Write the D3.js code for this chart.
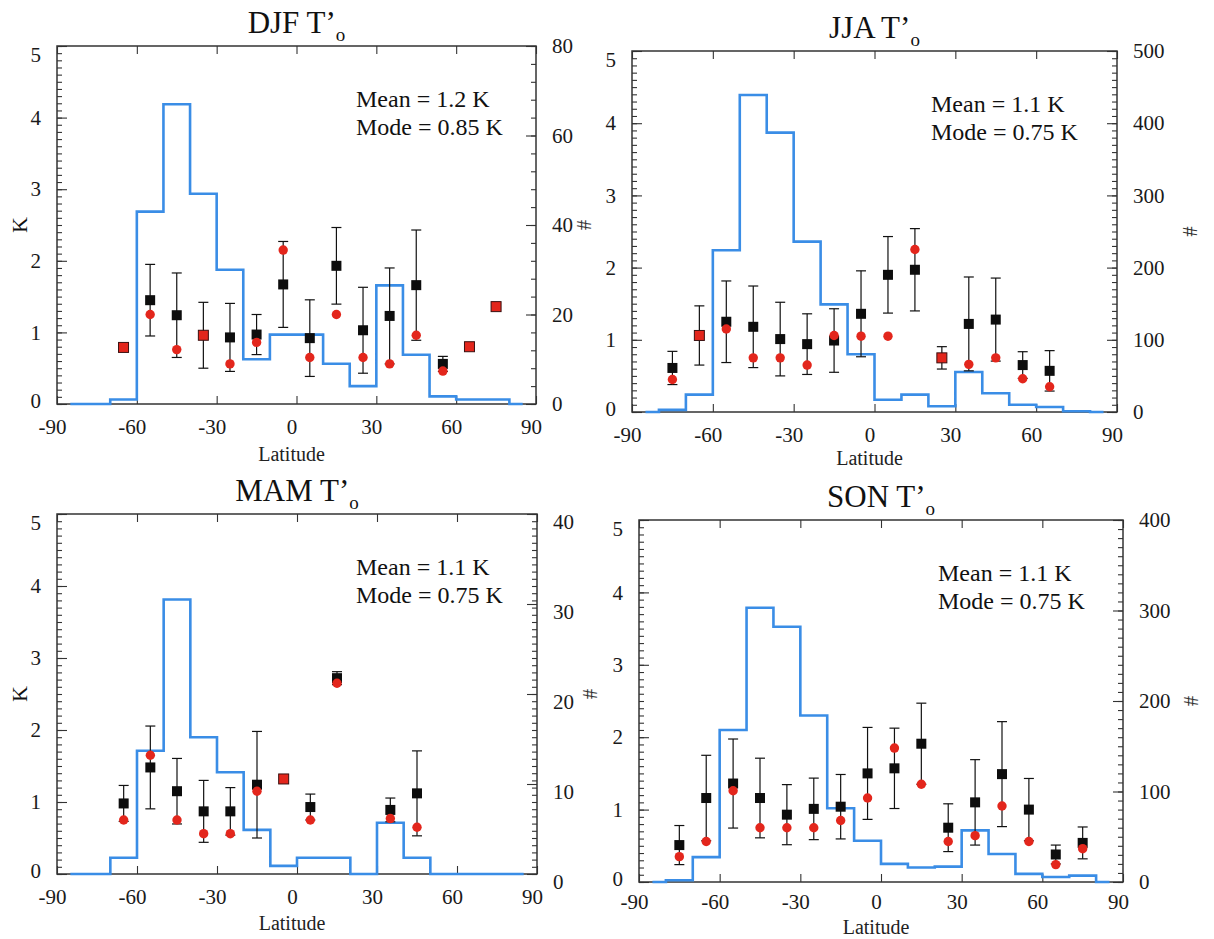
<!DOCTYPE html>
<html>
<head>
<meta charset="utf-8">
<script src="https://cdn.jsdelivr.net/npm/d3@7"></script>
<style>
  body { margin: 0; background: #fff; }
  svg { display: block; }
</style>
</head>
<body>
<script>
// shared latitude setup
const xTicks = [-90, -60, -30, 0, 30, 60, 90];
const binEdges = [-85, -80, -70, -60, -50, -40, -30, -20, -10, 0, 10, 20, 30, 40, 50, 60, 70, 80, 85];

// DJF
const djfLat = [-65, -55, -45, -35, -25, -15, -5, 5, 15, 25, 35, 45, 55, 65, 75];
const djfBlack = [0.79, 1.45, 1.24, 0.96, 0.93, 0.97, 1.67, 0.92, 1.93, 1.03, 1.23, 1.66, 0.56, 0.80, 1.36];
const djfRed = [0.79, 1.25, 0.76, 0.96, 0.56, 0.86, 2.15, 0.65, 1.25, 0.65, 0.56, 0.96, 0.46, 0.80, 1.36];
const djfSd = [0, 0.50, 0.59, 0.46, 0.475, 0.28, 0.60, 0.535, 0.535, 0.60, 0.67, 0.77, 0.105, 0, 0];
const djfCount = [0, 0, 1, 43, 67, 47, 30, 10, 15.5, 15.5, 9, 4, 26.5, 11, 1.7, 1, 1, 0];

// JJA
const jjaLat = [-75, -65, -55, -45, -35, -25, -15, -5, 5, 15, 25, 35, 45, 55, 65];
const jjaBlack = [0.61, 1.06, 1.25, 1.18, 1.01, 0.94, 0.99, 1.36, 1.90, 1.97, 0.75, 1.22, 1.28, 0.65, 0.57];
const jjaRed = [0.45, 1.06, 1.15, 0.75, 0.75, 0.65, 1.06, 1.05, 1.05, 2.25, 0.75, 0.66, 0.75, 0.46, 0.35];
const jjaSd = [0.23, 0.41, 0.565, 0.565, 0.51, 0.42, 0.44, 0.595, 0.53, 0.57, 0.155, 0.65, 0.575, 0.185, 0.28];
const jjaCount = [0, 3, 24, 224, 439, 387, 236, 149, 80, 17, 24, 8, 55.5, 26, 10, 7, 1, 0];

// MAM
const mamLat = [-65, -55, -45, -35, -25, -15, -5, 5, 15, 35, 45];
const mamBlack = [0.98, 1.48, 1.15, 0.87, 0.87, 1.24, 1.32, 0.93, 2.72, 0.89, 1.12];
const mamRed = [0.75, 1.65, 0.75, 0.56, 0.56, 1.15, 1.32, 0.75, 2.65, 0.77, 0.65];
const mamSd = [0.25, 0.575, 0.455, 0.43, 0.33, 0.74, 0, 0.18, 0.09, 0.165, 0.59];
const mamCount = [0, 0, 1.8, 13.7, 30.5, 15.2, 11.3, 4.9, 0.9, 1.8, 1.8, 0, 5.7, 1.8, 0, 0, 0, 0];

// SON
const sonLat = [-75, -65, -55, -45, -35, -25, -15, -5, 5, 15, 25, 35, 45, 55, 65, 75];
const sonBlack = [0.51, 1.16, 1.36, 1.16, 0.93, 1.01, 1.04, 1.50, 1.57, 1.91, 0.75, 1.10, 1.49, 1.00, 0.38, 0.54];
const sonRed = [0.35, 0.56, 1.26, 0.75, 0.75, 0.75, 0.85, 1.16, 1.85, 1.35, 0.56, 0.64, 1.05, 0.56, 0.24, 0.46];
const sonSd = [0.27, 0.59, 0.615, 0.55, 0.415, 0.425, 0.445, 0.635, 0.555, 0.56, 0.33, 0.59, 0.725, 0.43, 0.13, 0.22];
const sonCount = [0, 2, 27.5, 168, 303, 282, 184, 81.5, 45.5, 20, 16, 17, 57, 31, 9, 5.5, 7, 0];

const panels = [
  { season: 'DJF', lat: djfLat, black: djfBlack, red: djfRed, sd: djfSd, count: djfCount,
    mean: '1.2', mode: '0.85', nMax: 80, nStep: 20, nMinor: 4, box: [57, 46, 536, 404],
    kLabel: true, hashDx: 55, nShift: 0, xPad: 15, latDy: 57 },
  { season: 'JJA', lat: jjaLat, black: jjaBlack, red: jjaRed, sd: jjaSd, count: jjaCount,
    mean: '1.1', mode: '0.75', nMax: 500, nStep: 100, nMinor: 10, box: [632, 51, 1117, 412],
    kLabel: false, hashDx: 80, nShift: 0, xPad: 15, latDy: 53 },
  { season: 'MAM', lat: mamLat, black: mamBlack, red: mamRed, sd: mamSd, count: mamCount,
    mean: '1.1', mode: '0.75', nMax: 40, nStep: 10, nMinor: 0.8, box: [57, 514, 537, 874],
    kLabel: true, hashDx: 60, nShift: 8, xPad: 15, latDy: 56 },
  { season: 'SON', lat: sonLat, black: sonBlack, red: sonRed, sd: sonSd, count: sonCount,
    mean: '1.1', mode: '0.75', nMax: 400, nStep: 100, nMinor: 10, box: [639, 520, 1123, 882],
    kLabel: false, hashDx: 75, nShift: 0, xPad: 12, latDy: 52 }
];

const width = 1214, height = 939;
const serif = '"Liberation Serif", "DejaVu Serif", serif';
const ink = '#333';
const plain = d => String(d);   // keeps the ascii hyphen like the original

const svg = d3.select('body').append('svg')
  .attr('width', width)
  .attr('height', height)
  .style('font-family', serif);

function styleAxis(sel) {
  sel.attr('font-family', serif);
  sel.select('.domain').remove();
  sel.selectAll('line').attr('stroke', ink).attr('stroke-width', 1.1);
  sel.selectAll('text').attr('fill', '#1a1a1a').attr('font-size', 21).attr('font-family', serif);
}

panels.forEach(p => {
  const [left, top, right, bottom] = p.box;
  const x = d3.scaleLinear().domain([-90, 90]).range([left, right]);
  const yK = d3.scaleLinear().domain([0, 5]).range([bottom, top]);
  const yN = d3.scaleLinear().domain([0, p.nMax]).range([bottom, top]);
  const g = svg.append('g');

  // ----- left axis (K) -----
  g.append('g').attr('transform', `translate(${left},0)`)
    .call(d3.axisLeft(yK).tickValues(d3.range(0, 51).map(i => i / 10)).tickSizeInner(-5).tickSizeOuter(0).tickFormat(''))
    .call(styleAxis);
  g.append('g').attr('transform', `translate(${left},0)`)
    .call(d3.axisLeft(yK).tickValues(d3.range(0, 6)).tickSizeInner(-10).tickSizeOuter(0).tickPadding(16).tickFormat(plain))
    .call(styleAxis)
    .selectAll('.tick text')
      .attr('dy', d => d === 5 ? '0.75em' : d === 0 ? '0.15em' : '0.32em');

  // ----- right axis (#) -----
  const nMinorVals = d3.range(0, Math.round(p.nMax / p.nMinor) + 1).map(i => i * p.nMinor);
  g.append('g').attr('transform', `translate(${right},0)`)
    .call(d3.axisRight(yN).tickValues(nMinorVals).tickSizeInner(-5).tickSizeOuter(0).tickFormat(''))
    .call(styleAxis);
  g.append('g').attr('transform', `translate(${right},0)`)
    .call(d3.axisRight(yN).tickValues(d3.range(0, p.nMax + 1, p.nStep)).tickSizeInner(-10).tickSizeOuter(0).tickPadding(16).tickFormat(plain))
    .call(styleAxis)
    .selectAll('.tick text')
      .attr('transform', `translate(0,${p.nShift})`);

  // ----- top / bottom axes -----
  g.append('g').attr('transform', `translate(0,${bottom})`)
    .call(d3.axisBottom(x).tickValues(xTicks).tickSizeInner(-8).tickSizeOuter(0).tickPadding(p.xPad).tickFormat(plain))
    .call(styleAxis)
    .selectAll('.tick text').attr('dx', -5);
  g.append('g').attr('transform', `translate(0,${top})`)
    .call(d3.axisTop(x).tickValues(xTicks).tickSizeInner(-8).tickSizeOuter(0).tickFormat(''))
    .call(styleAxis);

  // frame
  g.append('rect')
    .attr('x', left).attr('y', top)
    .attr('width', right - left).attr('height', bottom - top)
    .attr('fill', 'none').attr('stroke', ink).attr('stroke-width', 1.5);

  // ----- histogram of counts (step line) -----
  const histPts = binEdges.map((e, i) => [e, p.count[Math.min(i, p.count.length - 1)]]);
  g.append('path')
    .datum(histPts)
    .attr('fill', 'none')
    .attr('stroke', '#3a8de6')
    .attr('stroke-width', 2.6)
    .attr('d', d3.line().x(d => x(d[0])).y(d => yN(d[1])).curve(d3.curveStepAfter));

  // ----- points -----
  const pts = p.lat.map((lat, i) => ({ lat, black: p.black[i], red: p.red[i], sd: p.sd[i] }));

  const bars = g.append('g').attr('stroke', '#111').attr('stroke-width', 1.2);
  pts.filter(d => d.sd > 0).forEach(d => {
    const cx = x(d.lat), hi = yK(d.black + d.sd), lo = yK(d.black - d.sd);
    bars.append('line').attr('x1', cx).attr('x2', cx).attr('y1', hi).attr('y2', lo);
    bars.append('line').attr('x1', cx - 5).attr('x2', cx + 5).attr('y1', hi).attr('y2', hi);
    bars.append('line').attr('x1', cx - 5).attr('x2', cx + 5).attr('y1', lo).attr('y2', lo);
  });

  g.append('g').selectAll('rect')
    .data(pts)
    .join('rect')
      .attr('x', d => x(d.lat) - 5)
      .attr('y', d => yK(d.black) - 5)
      .attr('width', 10).attr('height', 10)
      .attr('fill', d => d.black === d.red ? '#e3261c' : '#0d0d0d')
      .attr('stroke', d => d.black === d.red ? '#3a1010' : 'none')
      .attr('stroke-width', 1);

  g.append('g').selectAll('circle')
    .data(pts.filter(d => d.black !== d.red))
    .join('circle')
      .attr('cx', d => x(d.lat))
      .attr('cy', d => yK(d.red))
      .attr('r', 4.7)
      .attr('fill', '#e3261c');

  // ----- texts -----
  const title = svg.append('text')
    .attr('x', (left + right) / 2)
    .attr('y', top - 13)
    .attr('text-anchor', 'middle')
    .attr('font-size', 31)
    .attr('fill', '#111');
  title.append('tspan').text(p.season + ' T’');
  title.append('tspan').attr('dy', 8).attr('font-size', 19).text('o');

  svg.append('text')
    .attr('x', left + 299).attr('y', top + 61)
    .attr('font-size', 24).attr('fill', '#111')
    .text(`Mean = ${p.mean} K`);
  svg.append('text')
    .attr('x', left + 299).attr('y', top + 89)
    .attr('font-size', 24).attr('fill', '#111')
    .text(`Mode = ${p.mode} K`);

  svg.append('text')
    .attr('x', (left + right) / 2 - 5).attr('y', bottom + p.latDy)
    .attr('text-anchor', 'middle')
    .attr('font-size', 20).attr('fill', '#222')
    .text('Latitude');

  if (p.kLabel) {
    svg.append('text')
      .attr('transform', `translate(27,${(top + bottom) / 2}) rotate(-90)`)
      .attr('text-anchor', 'middle')
      .attr('font-size', 22).attr('fill', '#111')
      .text('K');
  }

  svg.append('text')
    .attr('transform', `translate(${right + p.hashDx},${(top + bottom) / 2}) rotate(-90)`)
    .attr('text-anchor', 'middle')
    .attr('font-size', 20).attr('fill', '#333')
    .text('#');
});
</script>
</body>
</html>
